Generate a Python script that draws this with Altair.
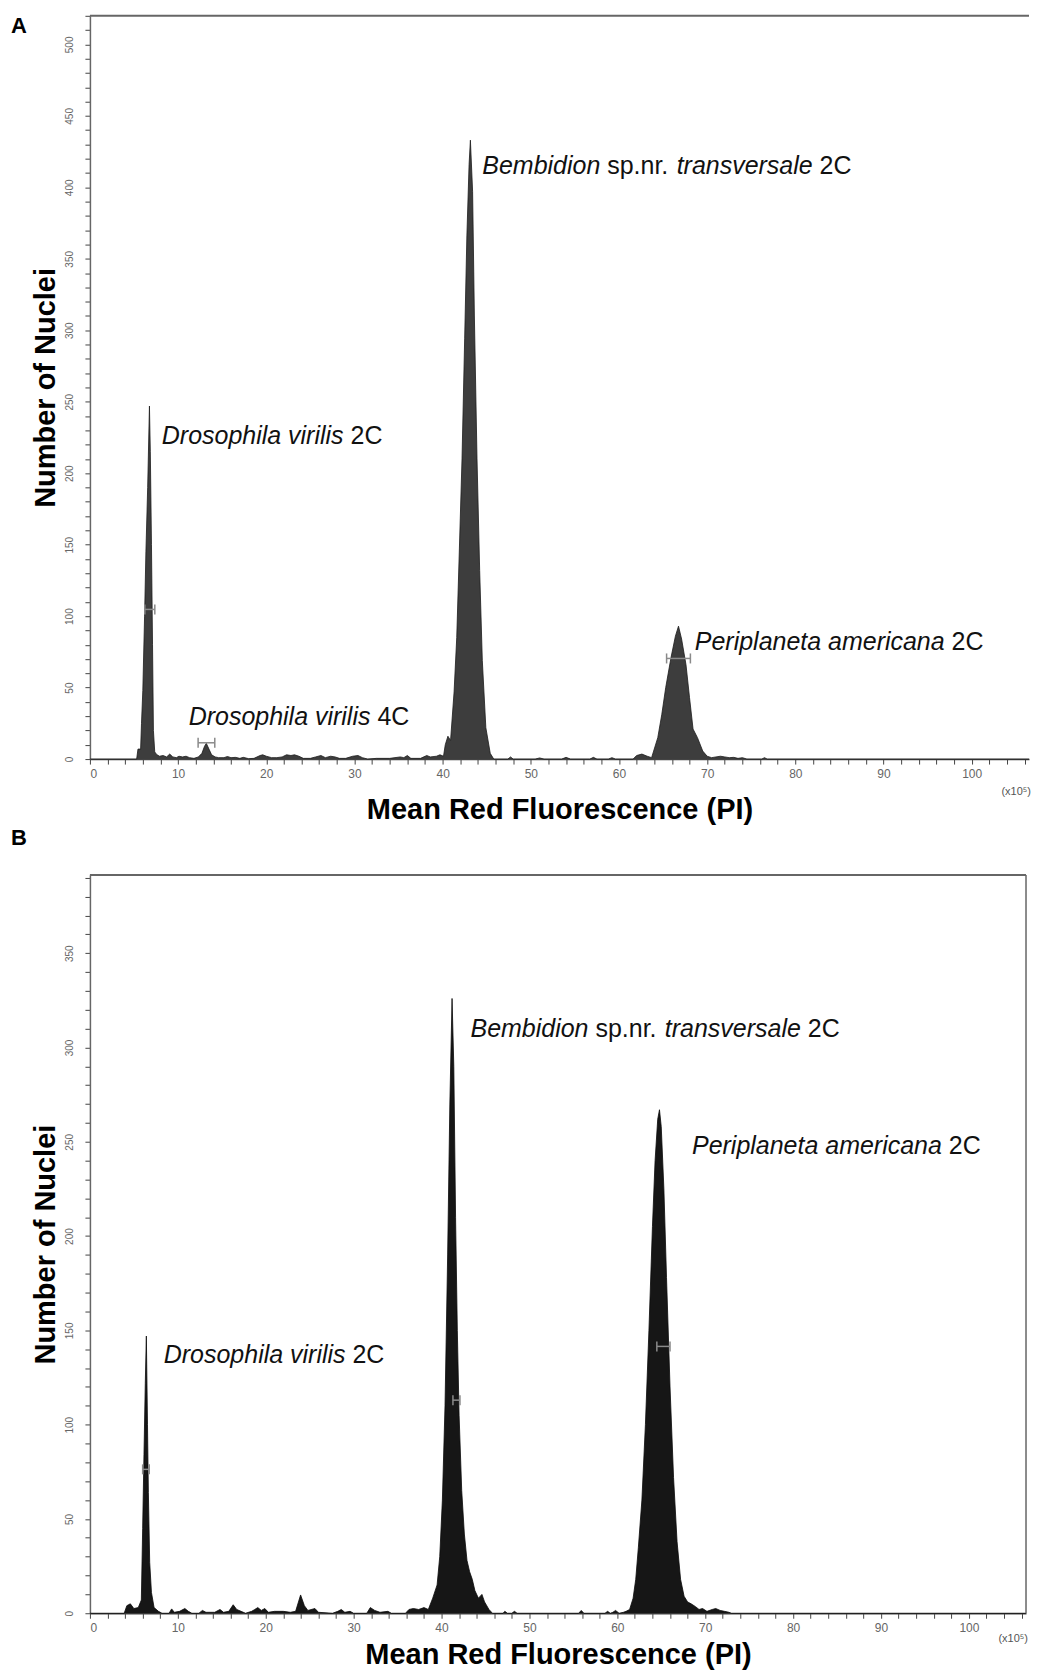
import altair as alt
import pandas as pd

# ---------------- data ----------------
XMAX = 106.5
X_TICKS = list(range(0, 107, 2))

A_HIST = [(0, 0), (5.3, 0), (5.45, 7), (5.75, 7), (5.85, 25), (6.0, 48), (6.2, 100), (6.35, 145),
          (6.55, 190), (6.75, 247), (6.85, 215), (6.98, 150), (7.1, 80), (7.2, 20), (7.35, 5),
          (7.6, 3), (7.9, 2), (8.3, 2.5), (8.7, 1.5), (9.05, 3.5), (9.4, 1.5), (9.8, 1), (10.1, 2),
          (10.5, 1.5), (10.9, 2), (11.3, 1), (11.8, 0.5), (12.3, 1.5), (12.7, 4), (13.0, 9),
          (13.2, 11), (13.5, 7), (13.8, 3), (14.2, 1.5), (14.6, 1), (15.2, 1), (15.6, 1.8),
          (16.0, 1), (16.5, 1.2), (17.0, 0.5), (17.4, 1.2), (18.0, 0.3), (18.6, 0.5), (19.3, 2.5),
          (19.6, 3), (20.0, 2), (20.6, 1), (21.2, 1), (21.8, 1.5), (22.3, 3), (22.8, 2.5),
          (23.2, 3), (23.7, 2), (24.2, 0.5), (25.0, 0.5), (25.6, 1.5), (26.2, 2.5), (26.7, 1),
          (27.3, 2), (27.8, 1.5), (28.3, 0.5), (29.0, 0.5), (29.8, 2), (30.4, 2.5), (30.9, 1),
          (31.5, 0), (32.5, 0.5), (34.0, 0.5), (35.2, 1.5), (35.6, 1), (36.0, 2.5), (36.4, 0.5),
          (37.5, 0.5), (38.2, 2.5), (38.6, 1.5), (39.3, 2), (39.7, 3), (40.1, 2), (40.3, 10),
          (40.6, 16), (40.9, 13), (41.3, 47), (41.6, 85), (41.9, 147), (42.2, 210), (42.5, 294),
          (42.75, 366), (43.0, 416), (43.15, 433), (43.4, 397), (43.6, 310), (43.9, 210),
          (44.2, 132), (44.5, 69), (44.9, 22), (45.4, 4), (45.8, 0), (47.4, 0), (47.7, 1.5),
          (48.0, 0), (50.5, 0), (51.0, 0.8), (51.5, 0), (53.5, 0), (54.0, 1.2), (54.5, 0),
          (56.7, 0), (57.1, 1.2), (57.5, 0), (58.8, 0), (59.2, 1), (59.6, 0), (61.6, 0),
          (62.0, 2.5), (62.6, 3.5), (63.2, 2), (63.7, 1), (63.9, 5), (64.4, 15), (64.85, 31),
          (65.3, 50), (65.9, 71), (66.4, 86), (66.75, 93), (67.1, 84), (67.6, 66), (68.0, 43),
          (68.4, 21), (68.9, 15), (69.5, 5.6), (70.0, 2), (70.5, 1), (71.0, 1.5), (71.5, 2),
          (72.0, 1.5), (72.5, 1), (73.0, 1.2), (73.5, 0.5), (74.0, 1), (74.5, 0), (76.2, 0),
          (76.5, 1), (76.8, 0), (106.5, 0)]

B_HIST = [(0, 0), (3.9, 0), (4.2, 4), (4.6, 5), (5.0, 2.5), (5.5, 3), (5.85, 7), (6.0, 45),
          (6.15, 84), (6.3, 122), (6.42, 147), (6.55, 100), (6.65, 64), (6.8, 27), (7.0, 11),
          (7.3, 3), (7.8, 1), (8.2, 0), (9.0, 0), (9.3, 2.3), (9.6, 0.5), (10.2, 1), (10.8, 2.5),
          (11.2, 1), (11.6, 0), (12.4, 0), (12.8, 1.5), (13.2, 0.5), (14.2, 0.5), (14.8, 2),
          (15.2, 0.5), (15.8, 1), (16.3, 4.5), (16.7, 2), (17.2, 1), (17.7, 0), (18.4, 1),
          (18.75, 2), (19.1, 3), (19.5, 1.5), (19.9, 2.5), (20.3, 0.5), (21.0, 1), (22.0, 1),
          (22.8, 0.5), (23.4, 1), (23.97, 9.7), (24.4, 4), (24.8, 1.5), (25.6, 2.5), (26.0, 0.5),
          (27.6, 0), (28.2, 1), (28.6, 2), (29.0, 0.5), (29.6, 1), (30.0, 0), (31.5, 0),
          (31.9, 3), (32.4, 1.5), (33.0, 0.5), (33.9, 1), (34.3, 0), (35.9, 0), (36.3, 2),
          (36.8, 2.5), (37.4, 2), (38.0, 3), (38.5, 2), (39.0, 8), (39.5, 15), (39.8, 30),
          (40.1, 60), (40.4, 110), (40.7, 190), (40.95, 270), (41.2, 326), (41.4, 290),
          (41.6, 210), (41.8, 150), (42.0, 105), (42.3, 65), (42.6, 42), (42.9, 28), (43.2, 22),
          (43.5, 18), (43.8, 12), (44.2, 8), (44.6, 10), (44.9, 6), (45.4, 2), (45.8, 0),
          (47.0, 0), (47.2, 1), (47.5, 0), (48.0, 0), (48.3, 1), (48.6, 0), (55.6, 0),
          (55.9, 1.5), (56.2, 0), (58.6, 0), (58.9, 1), (59.2, 0), (59.5, 0.5), (59.8, 1.5),
          (60.2, 0), (60.7, 0.5), (61.0, 1), (61.4, 2), (61.8, 8), (62.1, 18), (62.4, 35),
          (62.8, 60), (63.2, 100), (63.6, 150), (64.0, 205), (64.3, 240), (64.6, 262),
          (64.8, 267), (65.0, 258), (65.3, 225), (65.6, 178), (66.0, 120), (66.4, 72),
          (66.8, 38), (67.2, 18), (67.6, 9), (68.0, 6), (68.4, 5), (68.9, 3.5), (69.3, 2),
          (69.7, 2.5), (70.2, 1), (70.8, 2), (71.2, 2.5), (71.7, 1.5), (72.2, 1), (72.7, 0.5),
          (73.0, 0), (106.5, 0)]

# gate markers: (low, high, height)
A_GATES = [(6.23, 7.36, 104.7), (12.27, 14.16, 11.4), (65.4, 68.1, 70.4)]
B_GATES = [(6.0, 6.75, 76.3), (41.3, 42.1, 113.0), (64.5, 66.0, 141.5)]

# peak labels: (segments [(text, italic)], x, y)
A_LABELS = [
    ([("Drosophila virilis", True), ("2C", False)], 8.15, 226),
    ([("Bembidion", True), ("sp.nr.", False), ("transversale", True), ("2C", False)], 44.5, 415),
    ([("Periplaneta americana", True), ("2C", False)], 68.6, 82),
    ([("Drosophila virilis", True), ("4C", False)], 11.2, 29.6),
]
B_LABELS = [
    ([("Bembidion", True), ("sp.nr.", False), ("transversale", True), ("2C", False)], 43.3, 310),
    ([("Periplaneta americana", True), ("2C", False)], 68.5, 248),
    ([("Drosophila virilis", True), ("2C", False)], 8.4, 137),
]

A_YMAX = 520
B_YMAX = 391.5
A_Y_TICKS = list(range(0, 521, 10))
B_Y_TICKS = list(range(0, 391, 10))

X_TITLE = "Mean Red Fluorescence (PI)"
Y_TITLE = "Number of Nuclei"
EXP_LABEL = "(x10\u2075)"

# ---------------- helpers ----------------
ARIAL = {" ": .278, ".": .278, "2": .556, "4": .556, "C": .722, "a": .556, "c": .5, "d": .556,
         "e": .556, "h": .556, "i": .222, "l": .222, "m": .833, "n": .556, "o": .556,
         "p": .556, "r": .333, "s": .5, "t": .278, "v": .5, "B": .667, "D": .722, "P": .667,
         "b": .556}
LABEL_FS = 25


def text_w(s):
    return sum(ARIAL.get(ch, .556) for ch in s) * LABEL_FS


def panel(hist, gates, labels, ymax, yticks, w, h, fill, stroke, letter, extra):
    xs = alt.Scale(domain=[0, XMAX], nice=False, zero=False)
    ys = alt.Scale(domain=[0, ymax], nice=False, zero=True)
    xaxis = alt.Axis(values=X_TICKS, labelExpr="datum.value % 10 == 0 ? datum.label : ''",
                     labelOverlap=False, labelAngle=0, labelFontSize=12, labelColor="#666",
                     labelPadding=4, tickSize=5, tickColor="#444", domainColor="#444",
                     domainWidth=1.5, grid=False, title=X_TITLE, titleFontSize=29,
                     titleFontWeight="bold", titleColor="#000", titlePadding=extra[3])
    yaxis = alt.Axis(values=yticks, labelExpr="datum.value % 50 == 0 ? datum.label : ''",
                     labelOverlap=False, labelAngle=270, labelAlign="center",
                     labelBaseline="bottom", labelFontSize=10, labelColor="#666",
                     labelPadding=10, tickSize=5, tickColor="#444", domainColor="#666",
                     domainWidth=1.5, grid=False, title=Y_TITLE, titleFontSize=29,
                     titleFontWeight="bold", titleColor="#000", titlePadding=4)

    def X(f):
        return alt.X(f, scale=xs, axis=xaxis)

    def Y(f):
        return alt.Y(f, scale=ys, axis=yaxis)

    df = pd.DataFrame(hist, columns=["x", "y"])
    area = alt.Chart(df).mark_area(
        color=fill, opacity=1, fillOpacity=1, interpolate="linear",
        line={"color": stroke, "strokeWidth": 0.8},
    ).encode(x=X("x:Q"), y=Y("y:Q"))

    gdf = pd.DataFrame(gates, columns=["lo", "hi", "gy"])
    grule = alt.Chart(gdf).mark_rule(color="#8a8a8a", strokeWidth=1.5).encode(
        x=X("lo:Q"), x2="hi:Q", y=Y("gy:Q"))
    gtick_lo = alt.Chart(gdf).mark_tick(color="#8a8a8a", orient="vertical", size=10,
                                        thickness=1.5, opacity=1).encode(x=X("lo:Q"), y=Y("gy:Q"))
    gtick_hi = alt.Chart(gdf).mark_tick(color="#8a8a8a", orient="vertical", size=10,
                                        thickness=1.5, opacity=1).encode(x=X("hi:Q"), y=Y("gy:Q"))

    layers = [area, grule, gtick_lo, gtick_hi]

    for segs, lx, ly in labels:
        off = 0.0
        for txt, ital in segs:
            sdf = pd.DataFrame({"x": [lx], "y": [ly], "t": [txt]})
            layers.append(
                alt.Chart(sdf).mark_text(
                    align="left", baseline="middle", dx=off, fontSize=LABEL_FS,
                    fontStyle="italic" if ital else "normal", color="#111",
                ).encode(x=X("x:Q"), y=Y("y:Q"), text="t:N")
            )
            off += text_w(txt) + text_w(" ")

    one = pd.DataFrame({"t": [letter]})
    layers.append(alt.Chart(one).mark_text(
        align="left", baseline="middle", fontSize=22, fontWeight="bold", color="#000"
    ).encode(x=alt.value(-79), y=alt.value(extra[0]), text="t:N"))

    layers.append(alt.Chart(one).mark_rule(color="#666", strokeWidth=2).encode(
        x=alt.value(0), x2=alt.value(w), y=alt.value(0)))
    if extra[2]:
        layers.append(alt.Chart(one).mark_rule(color="#666", strokeWidth=1.5).encode(
            x=alt.value(w), y=alt.value(0), y2=alt.value(h)))

    edf = pd.DataFrame({"t": [EXP_LABEL]})
    layers.append(alt.Chart(edf).mark_text(
        align="right", baseline="middle", fontSize=11, color="#555"
    ).encode(x=alt.value(w + 2), y=alt.value(h + extra[1]), text="t:N"))

    return alt.layer(*layers).properties(width=w, height=h)


panel_a = panel(A_HIST, A_GATES, A_LABELS, A_YMAX, A_Y_TICKS, 940, 744,
                "#3d3d3d", "#1c1c1c", "A", (10, 33, False, 16))
panel_b = panel(B_HIST, B_GATES, B_LABELS, B_YMAX, B_Y_TICKS, 937, 739,
                "#161616", "#0a0a0a", "B", (-37, 26, True, 7))

chart = alt.vconcat(panel_a, panel_b, spacing=3).properties(
    padding={"left": 3, "top": 6, "right": 0, "bottom": 0}
).configure(font="Liberation Sans").configure_view(stroke=None)

chart.save("out.html", embed_options={"renderer": "svg", "actions": False})
